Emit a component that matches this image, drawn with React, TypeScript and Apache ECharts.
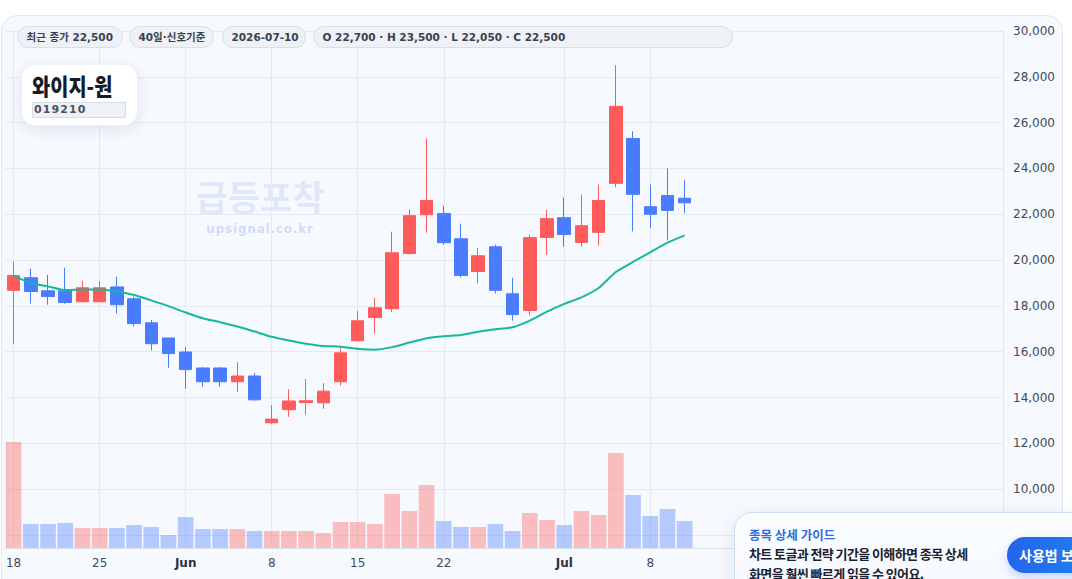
import React, { useEffect, useRef } from "react";
import * as echarts from "echarts";

const dates = [
  "2026-05-18", "2026-05-19", "2026-05-20", "2026-05-21", "2026-05-22",
  "2026-05-25", "2026-05-26", "2026-05-27", "2026-05-28", "2026-05-29",
  "2026-06-01", "2026-06-02", "2026-06-03", "2026-06-04", "2026-06-05",
  "2026-06-08", "2026-06-09", "2026-06-10", "2026-06-11", "2026-06-12",
  "2026-06-15", "2026-06-16", "2026-06-17", "2026-06-18", "2026-06-19",
  "2026-06-22", "2026-06-23", "2026-06-24", "2026-06-25", "2026-06-26",
  "2026-06-29", "2026-06-30", "2026-07-01", "2026-07-02", "2026-07-03",
  "2026-07-06", "2026-07-07", "2026-07-08", "2026-07-09", "2026-07-10",
];
// empty future slots on the right of the time axis
const futureSlots = [
  "f01", "f02", "f03", "f04", "f05", "f06", "f07", "f08", "f09",
  "f10", "f11", "f12", "f13", "f14", "f15", "f16", "f17", "f18",
];

const opens = [
  18680, 19230, 18660, 18660, 18180, 18180, 18830, 18310, 17260, 16600,
  15990, 15290, 15290, 14690, 14940, 12900, 13470, 13780, 13770, 14690,
  16480, 17490, 17880, 20290, 21980, 22030, 20930, 19500, 20580, 18530,
  17800, 20990, 21850, 20770, 21210, 23350, 25310, 22330, 22820, 22700,
];
const closes = [
  19330, 18630, 18410, 18150, 18790, 18790, 18050, 17230, 16350, 15920,
  15220, 14690, 14690, 14940, 13900, 13060, 13850, 13860, 14280, 15950,
  17350, 17920, 20320, 21940, 22600, 20760, 19330, 20190, 18680, 17620,
  20980, 21810, 21120, 21500, 22600, 26710, 22870, 22000, 22170, 22500,
];
const lows = [
  16350, 18100, 18050, 18090, 18180, 18180, 17670, 17100, 16050, 15300,
  14380, 14470, 14470, 14250, 13860, 12850, 13160, 13250, 13510, 14520,
  16480, 16790, 17740, 20230, 21200, 20670, 19240, 18980, 18540, 17360,
  17580, 20230, 20580, 20580, 20640, 23180, 21250, 21390, 20860, 22050,
];
const highs = [
  19930, 19620, 19360, 19670, 19100, 19100, 19270, 18410, 17390, 16600,
  16210, 15330, 15330, 15550, 15070, 13670, 14370, 14810, 14630, 16210,
  17780, 18350, 21240, 22200, 25310, 22380, 21590, 20540, 20670, 19230,
  21110, 22200, 22730, 22860, 23300, 28510, 25620, 23300, 24000, 23500,
];
const signalLine = [
  19310, 19000, 18850, 18690, 18720, 18720, 18630, 18480, 18240, 17990,
  17710, 17460, 17290, 17100, 16880, 16650, 16490, 16350, 16250, 16220,
  16130, 16090, 16200, 16400, 16590, 16680, 16730, 16870, 16980, 17070,
  17360, 17750, 18090, 18370, 18780, 19480, 19920, 20340, 20760, 21080,
];
const volumes = [
  1060000, 240000, 240000, 250000, 200000, 200000, 200000, 230000, 210000, 130000,
  310000, 190000, 190000, 190000, 170000, 170000, 170000, 170000, 150000, 260000,
  260000, 240000, 540000, 370000, 630000, 270000, 210000, 210000, 240000, 170000,
  350000, 280000, 230000, 370000, 330000, 950000, 530000, 320000, 390000, 270000,
];

const tickDates = [
  "2026-05-18", "2026-05-25", "2026-06-01", "2026-06-08",
  "2026-06-15", "2026-06-22", "2026-07-01", "2026-07-08",
];
const tickTexts = ["18", "25", "Jun", "8", "15", "22", "Jul", "8"];
const monthTicks = ["Jun", "Jul"];

const priceTicks = { min: 8000, max: 30000, step: 2000 };

const badges = ["최근 종가 22,500", "40일·신호기준", "2026-07-10", "O 22,700 · H 23,500 · L 22,050 · C 22,500"];
const stockName = "와이지-원";
const stockCode = "019210";
const watermarkTitle = "급등포착";
const watermarkSite = "upsignal.co.kr";
const guideTitle = "종목 상세 가이드";
const guideLines = ["차트 토글과 전략 기간을 이해하면 종목 상세", "화면을 훨씬 빠르게 읽을 수 있어요."];
const guideButton = "사용법 보기";

const RED = "#ff5b5b";
const BLUE = "#4a7cff";
const RED_VOL = "rgba(255,91,91,0.38)";
const BLUE_VOL = "rgba(74,124,255,0.38)";
const TEAL = "#17b89b";
const GRID = "#e6eaf0";
const LATIN = '"DejaVu Sans", "Noto Sans CJK KR", sans-serif';
const CJK = '"Noto Sans CJK KR", "DejaVu Sans", sans-serif';

const badgeBoxes = [
  { left: 17, width: 106 },
  { left: 129, width: 85 },
  { left: 222, width: 84 },
  { left: 313, width: 420 },
];

export default function App() {
  const ref = useRef<HTMLDivElement>(null);

  useEffect(() => {
    if (!ref.current) return;
    const chart = echarts.init(ref.current, null, { renderer: "svg" });
    const categories = [...dates, ...futureSlots];
    const isTick = (_i: number, v: string) => tickDates.includes(v);

    chart.setOption({
      animation: false,
      backgroundColor: "transparent",
      textStyle: { fontFamily: LATIN },
      grid: [
        { left: 5, right: 69, top: 31, height: 504 },
        { left: 5, right: 69, top: 31, bottom: 31 },
      ],
      xAxis: [
        {
          type: "category",
          gridIndex: 0,
          data: categories,
          boundaryGap: true,
          axisLine: { show: false },
          axisTick: { show: false },
          axisLabel: { show: false },
          splitLine: { show: false },
        },
        {
          type: "category",
          gridIndex: 1,
          data: categories,
          boundaryGap: true,
          axisLine: { show: true, lineStyle: { color: "#dce2ea", width: 1 } },
          axisTick: { show: false, alignWithLabel: true, interval: isTick },
          axisLabel: {
            interval: isTick,
            margin: 9,
            fontSize: 12,
            color: "#444c5b",
            fontFamily: LATIN,
            formatter: (v: string) => {
              const k = tickDates.indexOf(v);
              if (k < 0) return "";
              const t = tickTexts[k];
              return monthTicks.includes(t) ? `{b|${t}}` : t;
            },
            rich: {
              b: { fontWeight: "bold", color: "#2a3140", fontSize: 12, fontFamily: LATIN },
            },
          },
          splitLine: {
            show: true,
            interval: isTick,
            alignWithLabel: true,
            lineStyle: { color: GRID, width: 1 },
          },
        },
      ],
      yAxis: [
        {
          type: "value",
          gridIndex: 0,
          position: "right",
          min: priceTicks.min,
          max: priceTicks.max,
          interval: priceTicks.step,
          axisLine: { show: true, lineStyle: { color: "#e1e6ee" } },
          axisTick: { show: false },
          axisLabel: {
            margin: 10,
            fontSize: 12,
            color: "#414a59",
            fontFamily: LATIN,
            formatter: (v: number) => v.toLocaleString("en-US"),
          },
          splitLine: { show: true, lineStyle: { color: GRID, width: 1 } },
        },
        {
          type: "value",
          gridIndex: 1,
          min: 0,
          max: 5170000,
          show: false,
          splitLine: { show: false },
        },
      ],
      series: [
        {
          type: "bar",
          xAxisIndex: 1,
          yAxisIndex: 1,
          barCategoryGap: "9%",
          data: volumes.map((v, i) => ({
            value: v,
            itemStyle: { color: closes[i] >= opens[i] ? RED_VOL : BLUE_VOL },
          })),
          z: 1,
        },
        {
          type: "candlestick",
          xAxisIndex: 0,
          yAxisIndex: 0,
          barWidth: 13,
          data: opens.map((o, i) => [o, closes[i], lows[i], highs[i]]),
          itemStyle: {
            color: RED,
            color0: BLUE,
            borderColor: RED,
            borderColor0: BLUE,
            borderWidth: 1,
          },
          z: 3,
        },
        {
          type: "line",
          xAxisIndex: 0,
          yAxisIndex: 0,
          data: signalLine,
          symbol: "none",
          smooth: 0.2,
          lineStyle: { color: TEAL, width: 2 },
          z: 4,
        },
      ],
    });
    return () => chart.dispose();
  }, []);

  return (
    <div
      style={{
        position: "fixed",
        left: 0,
        top: 0,
        width: 1072,
        height: 579,
        overflow: "hidden",
        background: "#ffffff",
      }}
    >
      {/* panel */}
      <div
        style={{
          position: "absolute",
          left: 1,
          top: 15,
          width: 1062,
          height: 620,
          borderRadius: 16,
          border: "1px solid #e3e8f0",
          background: "#f6f9fe",
          boxSizing: "border-box",
        }}
      />
      {/* watermark */}
      <div
        style={{
          position: "absolute",
          left: 160,
          top: 175,
          width: 200,
          textAlign: "center",
          fontFamily: CJK,
          fontWeight: 700,
          fontSize: 35,
          lineHeight: "42px",
          color: "rgba(70,110,225,0.15)",
          whiteSpace: "nowrap",
        }}
      >
        {watermarkTitle}
      </div>
      <div
        style={{
          position: "absolute",
          left: 160,
          top: 221,
          width: 200,
          textAlign: "center",
          fontFamily: LATIN,
          fontWeight: 700,
          fontSize: 12,
          letterSpacing: "0.8px",
          lineHeight: "16px",
          color: "rgba(70,110,225,0.22)",
          whiteSpace: "nowrap",
        }}
      >
        {watermarkSite}
      </div>
      <div ref={ref} style={{ position: "absolute", left: 0, top: 0, width: 1072, height: 579 }} />
      {/* badges */}
      {badges.map((b, i) => (
        <div
          key={i}
          style={{
            position: "absolute",
            left: badgeBoxes[i].left,
            top: 26,
            width: badgeBoxes[i].width,
            height: 22,
            boxSizing: "border-box",
            border: "1px solid #d9dfe8",
            borderRadius: 11,
            background: "#eef1f6",
            paddingLeft: 8.5,
            fontFamily: LATIN,
            fontWeight: 700,
            fontSize: 10.5,
            lineHeight: "20px",
            color: "#394150",
            whiteSpace: "nowrap",
          }}
        >
          {b}
        </div>
      ))}
      {/* title card */}
      <div
        style={{
          position: "absolute",
          left: 21,
          top: 64,
          width: 117,
          height: 62,
          borderRadius: 14,
          background: "#ffffff",
          border: "1px solid #eef1f5",
          boxSizing: "border-box",
          boxShadow: "0 4px 14px rgba(30,50,90,0.10)",
        }}
      />
      <div
        style={{
          position: "absolute",
          left: 32,
          top: 73,
          fontFamily: CJK,
          fontWeight: 900,
          fontSize: 23,
          lineHeight: "25px",
          color: "#161b26",
          whiteSpace: "nowrap",
          transform: "scaleX(0.86)",
          transformOrigin: "left center",
        }}
      >
        {stockName}
      </div>
      <div
        style={{
          position: "absolute",
          left: 32,
          top: 102,
          width: 94,
          height: 16,
          boxSizing: "border-box",
          background: "#eef1f6",
          border: "1px solid #d6dce6",
          paddingLeft: 1,
          fontFamily: LATIN,
          fontWeight: 700,
          fontSize: 11,
          letterSpacing: "1.1px",
          lineHeight: "14px",
          color: "#4a5263",
          whiteSpace: "nowrap",
        }}
      >
        {stockCode}
      </div>
      {/* guide box */}
      <div
        style={{
          position: "absolute",
          left: 734,
          top: 512,
          width: 380,
          height: 100,
          borderRadius: 18,
          border: "1px solid #cddbf6",
          boxSizing: "border-box",
          background: "linear-gradient(180deg, #fbfdff 0%, #f3f7ff 100%)",
          boxShadow: "0 6px 20px rgba(40,80,160,0.12)",
        }}
      />
      <div
        style={{
          position: "absolute",
          left: 749,
          top: 527,
          fontFamily: CJK,
          fontWeight: 600,
          fontSize: 12.5,
          lineHeight: "16px",
          color: "#2d6de3",
          whiteSpace: "nowrap",
        }}
      >
        {guideTitle}
      </div>
      {guideLines.map((t, i) => (
        <div
          key={i}
          style={{
            position: "absolute",
            left: 749,
            top: 544 + i * 20,
            fontFamily: CJK,
            fontWeight: 700,
            fontSize: 13,
            letterSpacing: "-0.6px",
            lineHeight: "20px",
            color: "#1b2130",
            whiteSpace: "nowrap",
          }}
        >
          {t}
        </div>
      ))}
      <div
        style={{
          position: "absolute",
          left: 1007,
          top: 537,
          width: 120,
          height: 36,
          borderRadius: 18,
          background: "linear-gradient(90deg, #2563eb 0%, #1d8df0 100%)",
          paddingLeft: 12,
          boxSizing: "border-box",
          fontFamily: CJK,
          fontWeight: 700,
          fontSize: 14,
          lineHeight: "36px",
          color: "#ffffff",
          whiteSpace: "nowrap",
          boxShadow: "0 4px 10px rgba(37,99,235,0.25)",
        }}
      >
        {guideButton}
      </div>
    </div>
  );
}
